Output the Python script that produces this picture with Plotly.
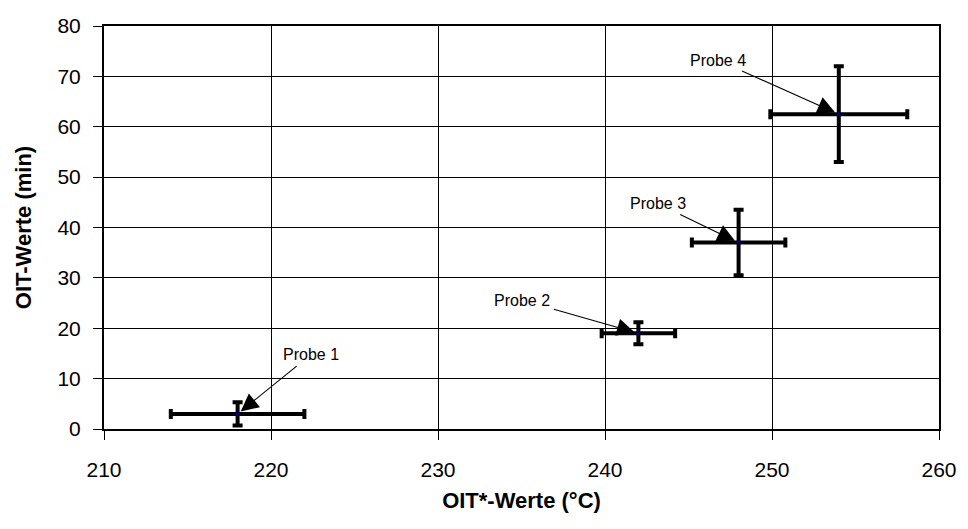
import plotly.graph_objects as go

labels = ["Probe 1", "Probe 2", "Probe 3", "Probe 4"]
oit_star = [218, 242, 248, 254]          # OIT*-Werte (°C)
oit = [3.0, 19.0, 37.0, 62.5]            # OIT-Werte (min)
err_x = [4.0, 2.2, 2.8, 4.1]
err_y = [2.3, 2.2, 6.5, 9.5]
x_ticks = [210, 220, 230, 240, 250, 260]
y_ticks = [0, 10, 20, 30, 40, 50, 60, 70, 80]

# label offsets (pixels) for annotation texts
label_ax = [73, -116, -81, -121]
label_ay = [-59, -33, -39, -54]

FONT = "Liberation Sans, Arial, sans-serif"

fig = go.Figure()
fig.add_trace(go.Scatter(
    x=oit_star, y=oit, mode="markers",
    marker=dict(color="#000080", size=4),
    error_x=dict(type="data", array=err_x, color="black", thickness=4, width=5),
    error_y=dict(type="data", array=err_y, color="black", thickness=4, width=5),
    showlegend=False, hoverinfo="skip",
))

for lab, xv, yv, ax, ay in zip(labels, oit_star, oit, label_ax, label_ay):
    fig.add_annotation(
        x=xv, y=yv, xref="x", yref="y", text=lab, ax=ax, ay=ay,
        showarrow=True, arrowhead=2, arrowsize=3.2, arrowwidth=1.1,
        arrowcolor="black", standoff=4, startstandoff=2,
        font=dict(family=FONT, size=16, color="black"),
    )

fig.update_layout(
    width=968, height=529,
    margin=dict(l=104, r=29, t=26, b=100),
    paper_bgcolor="white", plot_bgcolor="white",
    font=dict(family=FONT, color="black"),
    xaxis=dict(
        range=[210, 260], tickvals=x_ticks, ticktext=[str(v) for v in x_ticks],
        showgrid=True, gridcolor="black", gridwidth=1,
        showline=True, linecolor="black", linewidth=2, mirror=True,
        ticks="outside", ticklen=9, tickcolor="black", tickwidth=1,
        tickfont=dict(family=FONT, size=21, color="black"),
        ticklabelstandoff=12,
        zeroline=False,
        title=dict(text="<b>OIT*-Werte (°C)</b>", font=dict(family=FONT, size=22, color="black"), standoff=12),
    ),
    yaxis=dict(
        range=[0, 80], tickvals=y_ticks, ticktext=[str(v) for v in y_ticks],
        showgrid=True, gridcolor="black", gridwidth=1,
        showline=True, linecolor="black", linewidth=2, mirror=True,
        ticks="outside", ticklen=9, tickcolor="black", tickwidth=1,
        tickfont=dict(family=FONT, size=21, color="black"),
        ticklabelstandoff=8,
        zeroline=False,
        title=dict(text="<b>OIT-Werte (min)</b>", font=dict(family=FONT, size=22, color="black"), standoff=20),
    ),
)

fig.write_html(
    "out.html",
    config={"displayModeBar": False},
    post_script="document.body.style.margin='0';document.body.style.overflow='hidden';",
)
